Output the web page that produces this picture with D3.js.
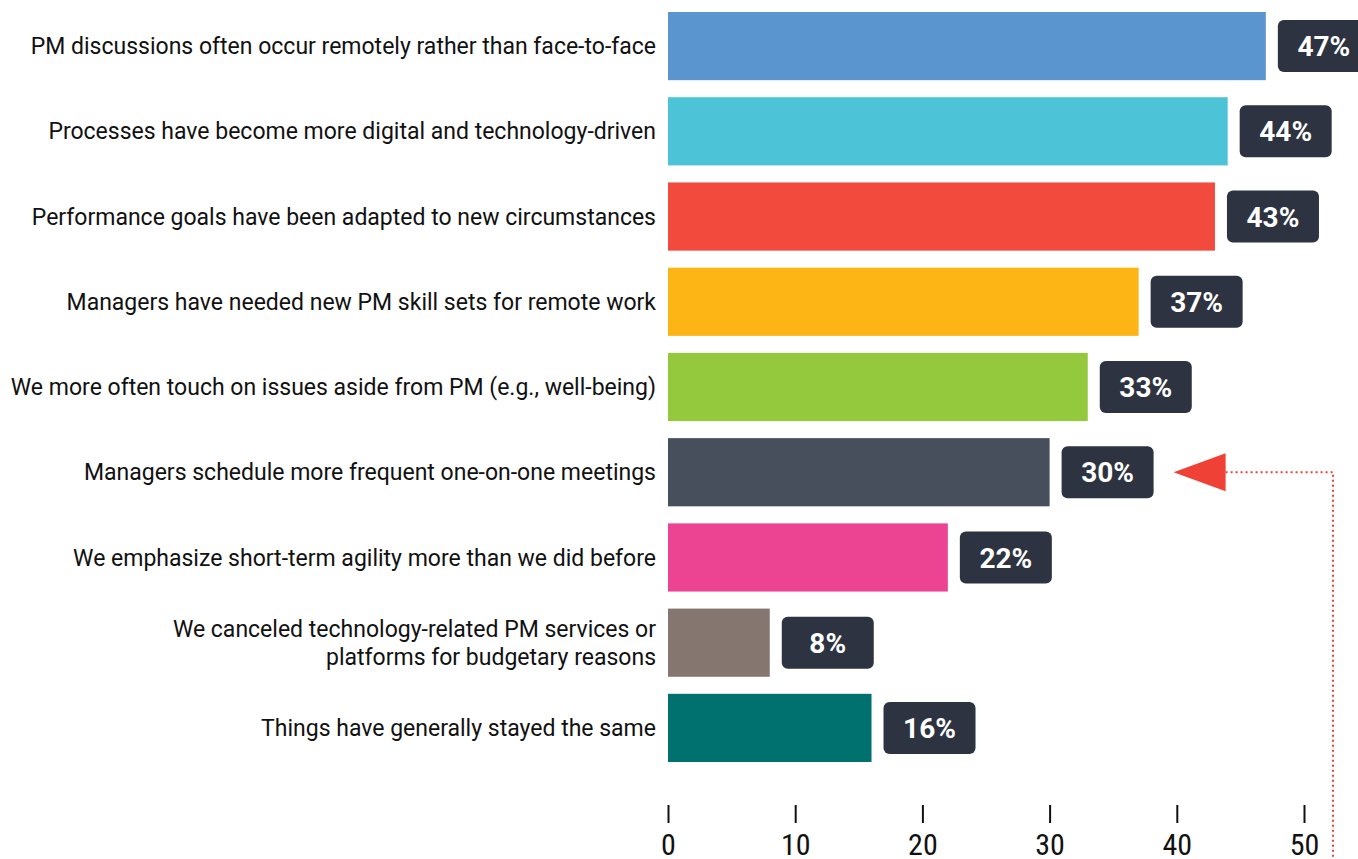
<!DOCTYPE html>
<html>
<head>
<meta charset="utf-8">
<script src="https://cdn.jsdelivr.net/npm/d3@7"></script>
<style>
  html, body { margin: 0; padding: 0; background: #ffffff; }
  svg { display: block; }
</style>
</head>
<body>
<svg id="chart" width="1358" height="859"></svg>
<script>
// Survey responses: how performance management has changed
const categories = [
  "PM discussions often occur remotely rather than face-to-face",
  "Processes have become more digital and technology-driven",
  "Performance goals have been adapted to new circumstances",
  "Managers have needed new PM skill sets for remote work",
  "We more often touch on issues aside from PM (e.g., well-being)",
  "Managers schedule more frequent one-on-one meetings",
  "We emphasize short-term agility more than we did before",
  "We canceled technology-related PM services or\nplatforms for budgetary reasons",
  "Things have generally stayed the same"
];
const values = [47, 44, 43, 37, 33, 30, 22, 8, 16];
const barColors = ["#5b95cf", "#4dc3d7", "#f24a3d", "#fdb515", "#95c93d",
                   "#474f5c", "#ec4393", "#857670", "#00716e"];
const tickValues = [0, 10, 20, 30, 40, 50];
const highlighted = 5; // row pointed at by the arrow

const svg = d3.select("#chart");

const x = d3.scaleLinear().domain([0, 50]).range([668, 1304]);
const y = d3.scaleBand()
  .domain(d3.range(categories.length))
  .range([12, 762])
  .paddingInner(0.2)
  .paddingOuter(0);

// Bars
svg.append("g").selectAll("rect")
  .data(values)
  .join("rect")
  .attr("x", x(0))
  .attr("y", (d, i) => y(i))
  .attr("width", d => x(d) - x(0))
  .attr("height", y.bandwidth())
  .attr("fill", (d, i) => barColors[i]);

// Category labels (right-aligned, with line breaks)
const labels = svg.append("g")
  .attr("font-family", "Roboto, sans-serif")
  .attr("font-size", 23)
  .attr("fill", "#111111")
  .attr("text-anchor", "end");

categories.forEach((c, i) => {
  const lines = c.split("\n");
  const cy = y(i) + y.bandwidth() / 2;
  const lh = 28;
  const t = labels.append("text")
    .attr("x", 656)
    .attr("y", cy - (lines.length - 1) * lh / 2);
  lines.forEach((ln, k) => {
    t.append("tspan")
      .attr("x", 656)
      .attr("dy", k === 0 ? "0.35em" : lh)
      .text(ln);
  });
});

// Value badges
const badgeW = 92, badgeH = 52;
const badges = svg.append("g").selectAll("g")
  .data(values)
  .join("g")
  .attr("transform", (d, i) =>
    `translate(${x(d) + 12},${y(i) + y.bandwidth() / 2 - badgeH / 2})`);

badges.append("rect")
  .attr("width", badgeW)
  .attr("height", badgeH)
  .attr("rx", 6)
  .attr("fill", "#2d3340");

badges.append("text")
  .attr("x", badgeW / 2)
  .attr("y", badgeH / 2)
  .attr("dy", "0.36em")
  .attr("text-anchor", "middle")
  .attr("font-family", "Roboto, sans-serif")
  .attr("font-weight", 700)
  .attr("font-size", 28)
  .attr("fill", "#ffffff")
  .text(d => d + "%");

// Axis
const axis = d3.axisBottom(x)
  .tickValues(tickValues)
  .tickSize(18)
  .tickPadding(11)
  .tickFormat(d3.format("d"));

const gAxis = svg.append("g")
  .attr("transform", "translate(0,805)")
  .call(axis);
gAxis.select(".domain").remove();
gAxis.selectAll(".tick line").attr("stroke", "#111").attr("stroke-width", 2);
gAxis.selectAll(".tick text")
  .attr("fill", "#111")
  .attr("font-family", "'Liberation Sans Narrow', 'Roboto Condensed', Roboto, sans-serif")
  .attr("font-stretch", "condensed")
  .attr("font-size", 30);

// Arrow pointing to the highlighted row
const ay = y(highlighted) + y.bandwidth() / 2;
const tipX = x(values[highlighted]) + 12 + badgeW + 20;
const baseX = tipX + 52;
svg.append("path")
  .attr("d", `M${tipX},${ay} L${baseX},${ay - 19} L${baseX},${ay + 19} Z`)
  .attr("fill", "#ef4136");

svg.append("path")
  .attr("d", `M${baseX},${ay} H1333 V859`)
  .attr("fill", "none")
  .attr("stroke", "#ef4136")
  .attr("stroke-width", 2)
  .attr("stroke-dasharray", "2,3");
</script>
</body>
</html>
